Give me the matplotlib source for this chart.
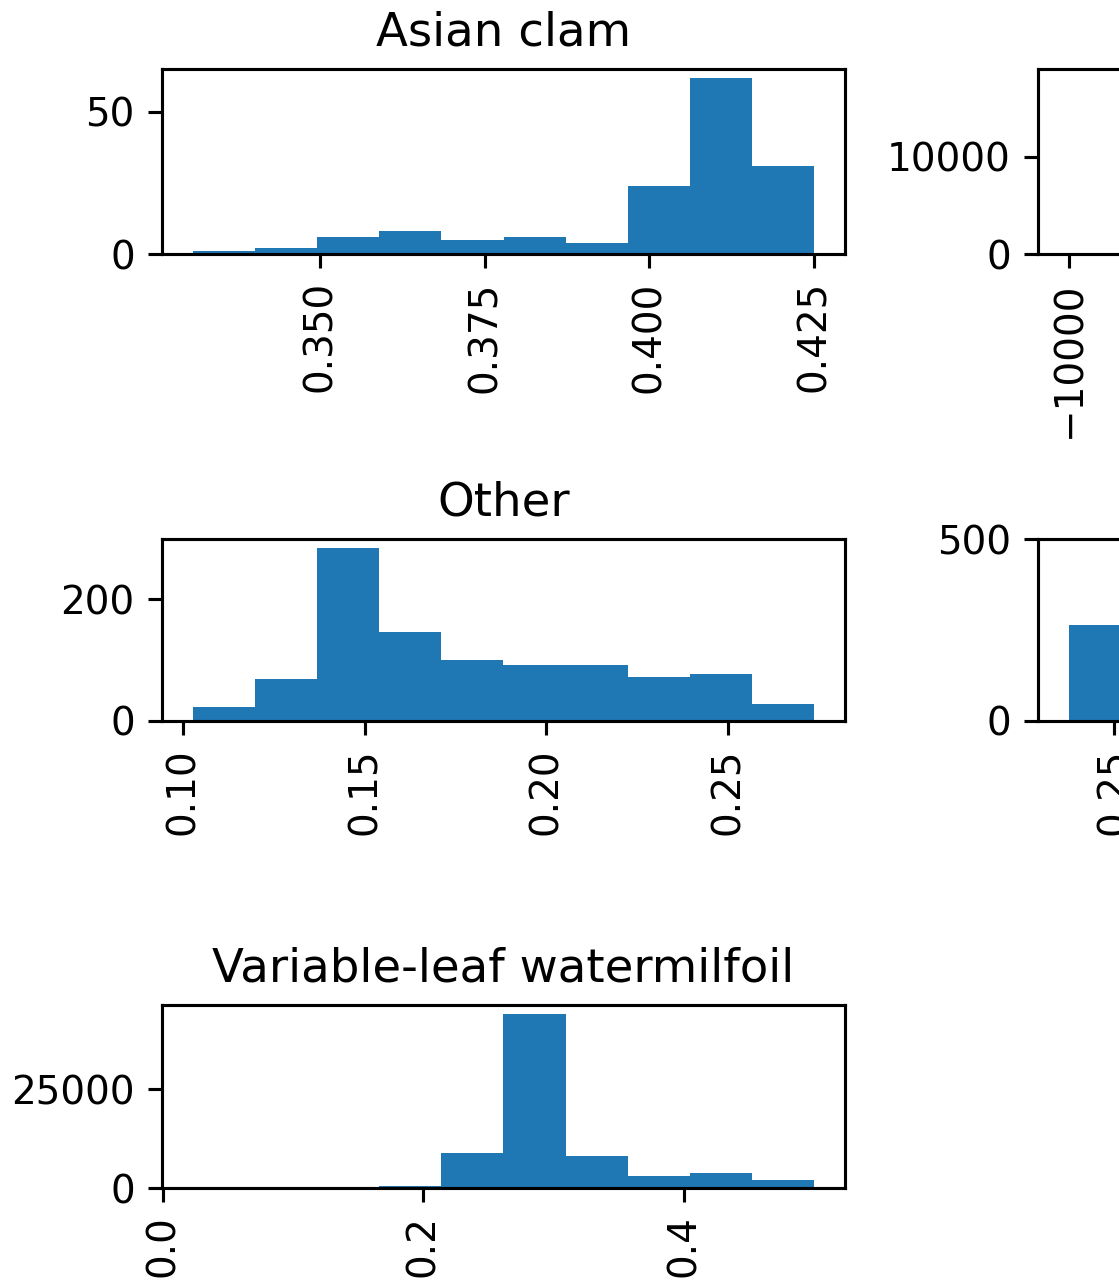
import numpy as np
from matplotlib import pyplot as plt

# Istogrammi per specie (10 bin ciascuno)
asian_clam_range = (0.3307, 0.4250)
asian_clam_counts = [1, 2, 6, 8, 5, 6, 4, 24, 62, 31]

other_range = (0.1028, 0.2737)
other_counts = [23, 69, 285, 147, 101, 92, 92, 73, 78, 28]

milfoil_range = (0.023, 0.500)
milfoil_counts = [0, 0, 0, 400, 8800, 44100, 8000, 2950, 3800, 2100]

# Colonna destra: visibile solo in parte
right_top_range = (-10000.0, 0.48)
right_top_counts = [1, 0, 0, 0, 0, 0, 0, 0, 0, 18080]

right_mid_range = (0.2377, 0.4077)
right_mid_counts = [265, 477, 300, 200, 150, 100, 60, 30, 15, 5]

titles = ["Asian clam", "Other", "Variable-leaf watermilfoil"]

DPI = 280
W, H = 1119, 1284


def draw_hist(ax, value_range, counts, title=None):
    """Disegna un istogramma a partire dai conteggi per bin."""
    edges = np.linspace(value_range[0], value_range[1], len(counts) + 1)
    ax.hist(edges[:-1], bins=edges, weights=counts, color="#1f77b4")
    ax.tick_params(axis="x", labelrotation=90)
    if title:
        ax.set_title(title)


fig = plt.figure(figsize=(W / DPI, H / DPI), dpi=DPI)

# posizioni in pixel (left, top, right, bottom)
left_x, right_x = 162, 845
col2_x = 1038
rows = [(69, 254), (539, 721), (1005, 1188)]


def make_axes(x0, top, bottom):
    return fig.add_axes([x0 / W, 1 - bottom / H, (right_x - left_x) / W, (bottom - top) / H])


ax1 = make_axes(left_x, *rows[0])
draw_hist(ax1, asian_clam_range, asian_clam_counts, titles[0])

ax2 = make_axes(left_x, *rows[1])
draw_hist(ax2, other_range, other_counts, titles[1])

ax3 = make_axes(left_x, *rows[2])
draw_hist(ax3, milfoil_range, milfoil_counts, titles[2])

ax4 = make_axes(col2_x, *rows[0])
draw_hist(ax4, right_top_range, right_top_counts)

ax5 = make_axes(col2_x, *rows[1])
draw_hist(ax5, right_mid_range, right_mid_counts)

fig.savefig("out.png", dpi=DPI)
